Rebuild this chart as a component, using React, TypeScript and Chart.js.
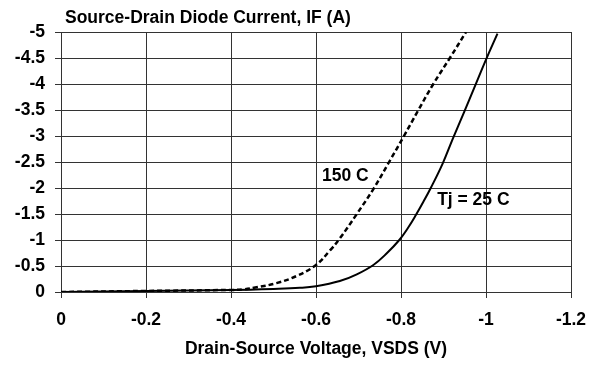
import React, { useEffect, useRef } from "react";
import { Chart, registerables } from "chart.js";

Chart.register(...registerables);

const voltage25 = [0, -0.2, -0.4, -0.5, -0.562, -0.6, -0.656, -0.696, -0.735, -0.766, -0.796, -0.817, -0.835, -0.853, -0.87, -0.898, -0.922, -0.948, -0.974, -1.0, -1.027];
const current25 = [0, -0.02, -0.04, -0.06, -0.08, -0.11, -0.21, -0.34, -0.52, -0.74, -1.0, -1.24, -1.48, -1.74, -2.0, -2.47, -2.95, -3.45, -3.96, -4.47, -4.97];

const voltage150 = [0, -0.2, -0.4, -0.43, -0.46, -0.507, -0.555, -0.6, -0.633, -0.656, -0.696, -0.735, -0.772, -0.807, -0.841, -0.876, -0.915, -0.953];
const current150 = [0, -0.02, -0.04, -0.05, -0.09, -0.17, -0.31, -0.52, -0.8, -1.03, -1.5, -1.98, -2.5, -3.0, -3.5, -4.0, -4.5, -5.0];

const xTicks = [0, -0.2, -0.4, -0.6, -0.8, -1, -1.2];
const yTicks = [0, -0.5, -1, -1.5, -2, -2.5, -3, -3.5, -4, -4.5, -5];

const titleText = "Source-Drain Diode Current, IF (A)";
const xTitleText = "Drain-Source Voltage, VSDS (V)";

const curveLabels = [
  { text: "150 C", v: -0.614, i: -2.13 },
  { text: "Tj = 25 C", v: -0.885, i: -1.67 },
];

const FAMILY = "'Liberation Sans', Arial, sans-serif";
const FONT = "bold 17.5px " + FAMILY;

export default function App() {
  const ref = useRef<HTMLCanvasElement | null>(null);

  useEffect(() => {
    document.body.style.margin = "0";
    const canvas = ref.current;
    if (!canvas) return;

    const textPlugin = {
      id: "texts",
      afterDraw(chart: any) {
        const ctx = chart.ctx;
        const area = chart.chartArea;
        const xs = chart.scales.x;
        const ys = chart.scales.y;
        ctx.save();
        ctx.fillStyle = "#000";
        ctx.font = FONT;
        ctx.textBaseline = "alphabetic";
        ctx.textAlign = "left";
        ctx.fillText(titleText, area.left + 4, 23);
        ctx.textAlign = "center";
        ctx.fillText(xTitleText, (area.left + area.right) / 2, 354);
        ctx.textAlign = "left";
        for (const l of curveLabels) {
          ctx.fillText(l.text, xs.getPixelForValue(l.v), ys.getPixelForValue(l.i));
        }
        ctx.restore();
      },
    };

    const chart = new Chart(canvas, {
      type: "line",
      data: {
        datasets: [
          {
            label: "150 C",
            data: voltage150.map((v, k) => ({ x: v, y: current150[k] })),
            borderColor: "#000",
            borderWidth: 2.5,
            borderDash: [5, 3],
            pointRadius: 0,
            tension: 0.4,
            fill: false,
          },
          {
            label: "Tj = 25 C",
            data: voltage25.map((v, k) => ({ x: v, y: current25[k] })),
            borderColor: "#000",
            borderWidth: 2,
            pointRadius: 0,
            tension: 0.4,
            fill: false,
          },
        ],
      },
      options: {
        responsive: false,
        animation: false,
        layout: { padding: { top: 32, right: 24, left: 0, bottom: 0 } },
        plugins: {
          legend: { display: false },
          tooltip: { enabled: false },
          title: { display: false },
        },
        scales: {
          x: {
            type: "linear",
            min: -1.2,
            max: 0,
            reverse: true,
            afterBuildTicks: (s: any) => {
              s.ticks = xTicks.map((v) => ({ value: v }));
            },
            afterFit: (s: any) => {
              s.height = 73;
              s.paddingLeft = 0;
              s.paddingRight = 0;
            },
            ticks: {
              color: "#000",
              font: { family: FAMILY, size: 17.5, weight: "bold" },
              padding: 12,
              maxRotation: 0,
              autoSkip: false,
              callback: (v: any) => String(v),
            },
            grid: { color: "#333", lineWidth: 1, tickLength: 6, drawTicks: true },
            border: { color: "#333", width: 1 },
          },
          y: {
            type: "linear",
            min: -5,
            max: 0,
            reverse: true,
            afterBuildTicks: (s: any) => {
              s.ticks = yTicks.map((v) => ({ value: v }));
            },
            afterFit: (s: any) => {
              s.width = 61;
              s.paddingTop = 0;
              s.paddingBottom = 0;
            },
            ticks: {
              color: "#000",
              font: { family: FAMILY, size: 17.5, weight: "bold" },
              padding: 10,
              autoSkip: false,
              callback: (v: any) => String(v),
            },
            grid: { color: "#333", lineWidth: 1, tickLength: 6, drawTicks: true },
            border: { color: "#333", width: 1 },
          },
        },
      },
      plugins: [textPlugin],
    } as any);

    return () => chart.destroy();
  }, []);

  return <canvas ref={ref} width={595} height={365} style={{ display: "block" }} />;
}
